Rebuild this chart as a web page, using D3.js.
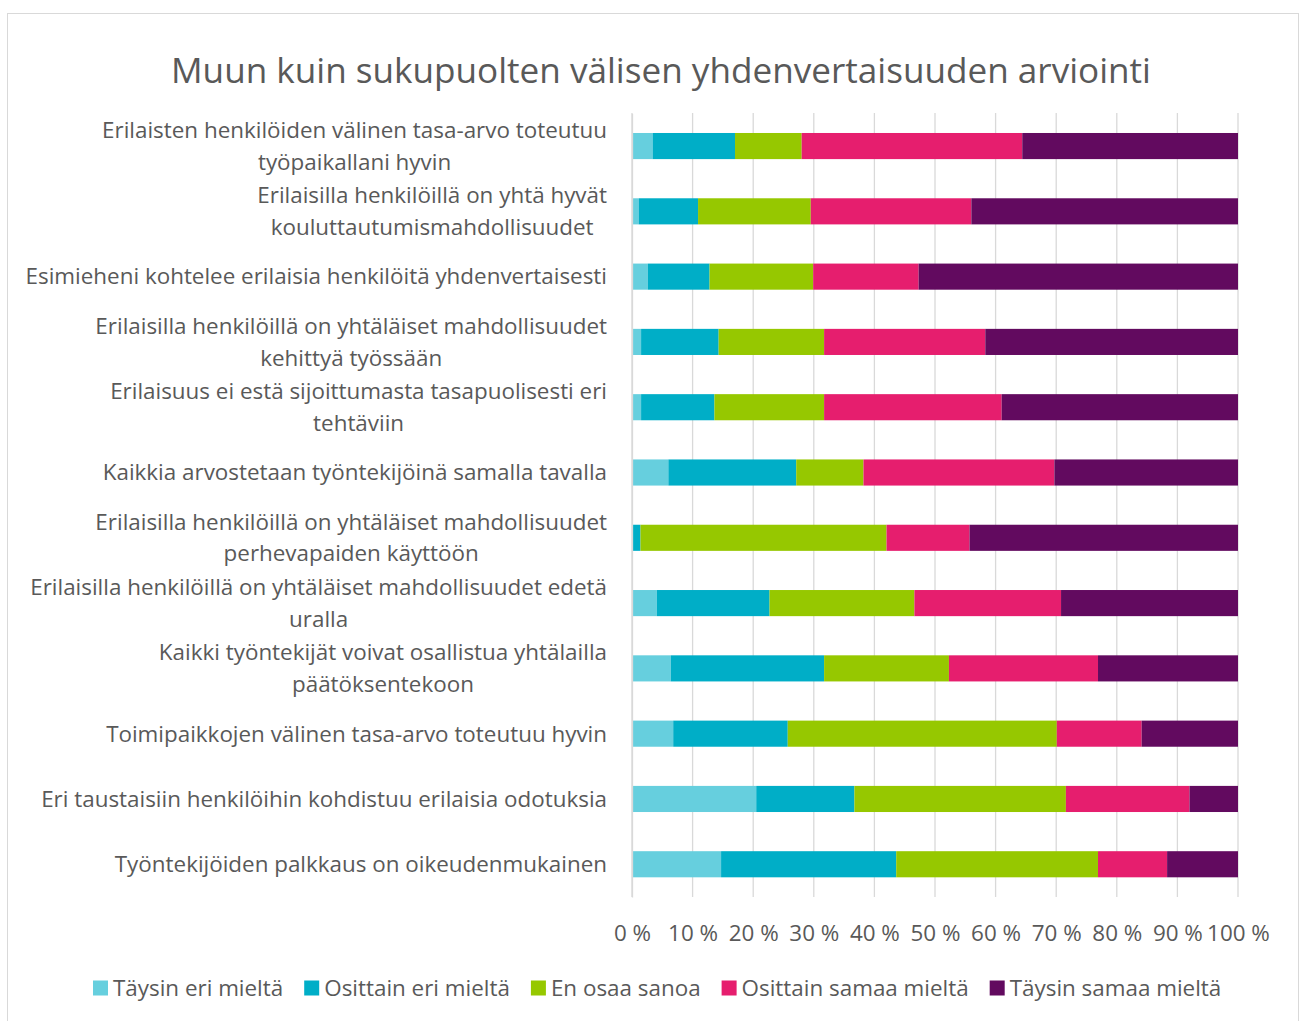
<!DOCTYPE html>
<html><head><meta charset="utf-8">
<script src="https://cdn.jsdelivr.net/npm/d3@7"></script>
<style>body{margin:0;background:#fff}svg{display:block}text{font-family:"Open Sans",sans-serif;fill:#595959}</style>
</head><body><svg id="c" width="1301" height="1021"></svg>
<script>
const title = "Muun kuin sukupuolten välisen yhdenvertaisuuden arviointi";
const categories = [
  "Erilaisten henkilöiden välinen tasa-arvo toteutuu\ntyöpaikallani hyvin",
  "Erilaisilla henkilöillä on yhtä hyvät\nkouluttautumismahdollisuudet",
  "Esimieheni kohtelee erilaisia henkilöitä yhdenvertaisesti",
  "Erilaisilla henkilöillä on yhtäläiset mahdollisuudet\nkehittyä työssään",
  "Erilaisuus ei estä sijoittumasta tasapuolisesti eri\ntehtäviin",
  "Kaikkia arvostetaan työntekijöinä samalla tavalla",
  "Erilaisilla henkilöillä on yhtäläiset mahdollisuudet\nperhevapaiden käyttöön",
  "Erilaisilla henkilöillä on yhtäläiset mahdollisuudet edetä\nuralla",
  "Kaikki työntekijät voivat osallistua yhtälailla\npäätöksentekoon",
  "Toimipaikkojen välinen tasa-arvo toteutuu hyvin",
  "Eri taustaisiin henkilöihin kohdistuu erilaisia odotuksia",
  "Työntekijöiden palkkaus on oikeudenmukainen"
];
const seriesNames = ["Täysin eri mieltä","Osittain eri mieltä","En osaa sanoa","Osittain samaa mieltä","Täysin samaa mieltä"];
const colors = ["#66CFDE","#00AEC7","#96C800","#E61E6E","#620A5F"];
const taysinEri   = [3.4, 1.1, 2.6, 1.5, 1.5, 6.0, 0.0, 4.1, 6.4, 6.8, 20.5, 14.7];
const osittainEri = [13.6, 9.8, 10.2, 12.8, 12.1, 21.1, 1.4, 18.6, 25.3, 18.9, 16.2, 28.9];
const enOsaa      = [11.0, 18.6, 17.1, 17.4, 18.1, 11.1, 40.6, 23.9, 20.6, 44.4, 34.9, 33.3];
const osittainSam = [36.4, 26.5, 17.4, 26.6, 29.3, 31.5, 13.7, 24.2, 24.6, 14.0, 20.4, 11.4];
const taysinSam   = [35.6, 44.0, 52.7, 41.7, 39.0, 30.3, 44.3, 29.2, 23.1, 15.9, 8.0, 11.7];
const tickValues = [0,10,20,30,40,50,60,70,80,90,100];

const svg = d3.select("#c");
svg.append("rect").attr("x",7.5).attr("y",13.5).attr("width",1291).attr("height",1020)
  .attr("fill","#fff").attr("stroke","#d9d9d9");

const x = d3.scaleLinear().domain([0,100]).range([632,1238]);
const y = d3.scaleBand().domain(d3.range(categories.length)).range([113.4,896.9]).paddingInner(0.6).paddingOuter(0.3);

function fit(sel, target){
  const w = sel.node().getComputedTextLength();
  const fs = parseFloat(sel.attr("font-size"));
  sel.attr("font-size", fs*target/w);
}

const t = svg.append("text").attr("x",661).attr("y",83).attr("text-anchor","middle").attr("font-size",33).text(title);
fit(t, 980);

const probe = svg.append("text").attr("font-size",22).text(categories[2]);
const lfs = 22*582/probe.node().getComputedTextLength();
probe.remove();

svg.append("g").selectAll("line").data(tickValues).join("line")
  .attr("x1",d=>x(d)).attr("x2",d=>x(d)).attr("y1",113).attr("y2",897)
  .attr("stroke","#d9d9d9").attr("stroke-width",1.3);

const rows = categories.map((c,i)=>({i, v:[taysinEri[i],osittainEri[i],enOsaa[i],osittainSam[i],taysinSam[i]]}));
const stackData = rows.map(r=>{const o={i:r.i}; seriesNames.forEach((s,k)=>o[s]=r.v[k]); return o;});
const stack = d3.stack().keys(seriesNames)(stackData);
svg.append("g").selectAll("g").data(stack).join("g").attr("fill",(d,k)=>colors[k])
  .selectAll("rect").data(d=>d).join("rect")
  .attr("x",d=>x(d[0])).attr("width",d=>x(d[1])-x(d[0]))
  .attr("y",d=>y(d.data.i)).attr("height",y.bandwidth());

const xAxis = d3.axisBottom(x).tickValues(tickValues).tickFormat(d=>d+" %").tickSize(0);
const ax = svg.append("g").attr("transform","translate(0,922)").call(xAxis);
ax.select(".domain").remove();
ax.selectAll("text").attr("font-size",lfs).attr("fill","#595959").style("font-family",'"Open Sans",sans-serif');

const yAxis = d3.axisLeft(y).tickSize(0).tickFormat("");
const ya = svg.append("g").attr("transform","translate(632,0)").call(yAxis);
ya.select(".domain").attr("stroke","#d9d9d9").attr("stroke-width",1.3);
const lineH = 31.5;
const lg = svg.append("g");
categories.forEach((c,i)=>{
  const lines = c.split("\n");
  const cy = y(i)+y.bandwidth()/2;
  const tx = lg.append("text").attr("text-anchor","middle").attr("font-size",lfs);
  lines.forEach((l,j)=>{
    tx.append("tspan").attr("x",0).attr("y",cy+(j-(lines.length-1)/2)*lineH).attr("dy","0.35em").text(l);
  });
  const bw = tx.node().getBBox().width;
  tx.attr("transform",`translate(${607-bw/2},0)`);
});

// legend laid out sequentially
const leg = svg.append("g").attr("transform","translate(0,988)");
let cx = 93;
seriesNames.forEach((s,k)=>{
  leg.append("rect").attr("x",cx).attr("y",-7.5).attr("width",15).attr("height",15).attr("fill",colors[k]);
  const tt = leg.append("text").attr("x",cx+20).attr("dy","0.35em").attr("font-size",lfs).text(s);
  cx += 20 + tt.node().getComputedTextLength() + 21;
});
</script></body></html>
